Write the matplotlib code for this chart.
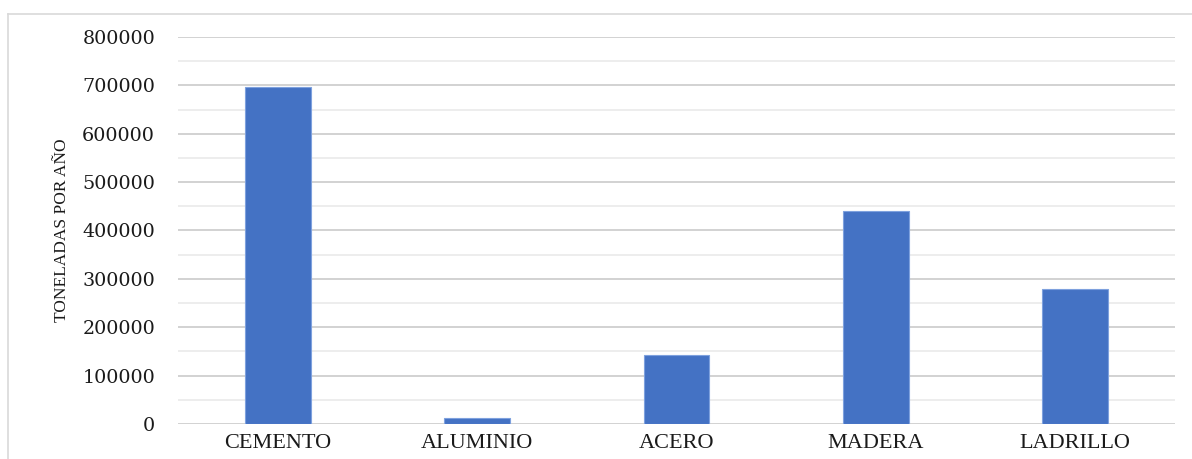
import matplotlib.pyplot as plt
from matplotlib.lines import Line2D

# --- DADOS ---
materiales = ['CEMENTO', 'ALUMINIO', 'ACERO', 'MADERA', 'LADRILLO']
toneladas = [697000, 12000, 142000, 440000, 280000]
ticks_y = [0, 100000, 200000, 300000, 400000, 500000, 600000, 700000, 800000]
ticks_menores = [50000, 150000, 250000, 350000, 450000, 550000, 650000, 750000]

SERIF = ['Liberation Serif', 'DejaVu Serif']
SERIF_NUM = ['DejaVu Serif']

fig = plt.figure(figsize=(11.92, 4.59), dpi=100)
ax = fig.add_axes([0.1493, 0.0763, 0.8364, 0.8431])

# Marco exterior (solo lados superior e izquierdo visibles)
fig.add_artist(Line2D([8 / 1192, 1.0], [1 - 14 / 459] * 2, color='#d9d9d9', lw=1.2))
fig.add_artist(Line2D([8 / 1192] * 2, [0.0, 1 - 14 / 459], color='#d9d9d9', lw=1.2))

x = list(range(len(materiales)))
ax.bar(x, toneladas, width=0.33, color='#4472c4', edgecolor='#7ea1de', linewidth=0.8, zorder=3)

ax.set_xlim(-0.5, len(materiales) - 0.5)
ax.set_ylim(0, 800000)

# Líneas de cuadrícula mayores y menores
for v in ticks_menores:
    ax.axhline(v, color='#ececec', lw=1.3, zorder=1)
for v in ticks_y:
    ax.axhline(v, color='#cfcfcf', lw=1.3, zorder=2)

ax.set_yticks(ticks_y)
ax.set_yticklabels([str(v) for v in ticks_y], fontsize=13.8, family=SERIF_NUM, color='#1a1a1a')
ax.set_xticks(x)
ax.set_xticklabels(materiales, fontsize=16, family=SERIF, color='#1a1a1a')
ax.tick_params(axis='both', length=0)
ax.tick_params(axis='y', pad=16.5)
ax.tick_params(axis='x', pad=7)

for s in ax.spines.values():
    s.set_visible(False)

ax.set_ylabel('TONELADAS POR AÑO', fontsize=12.5, family=SERIF, color='#1a1a1a', labelpad=9)

fig.savefig('out.png', dpi=100)
